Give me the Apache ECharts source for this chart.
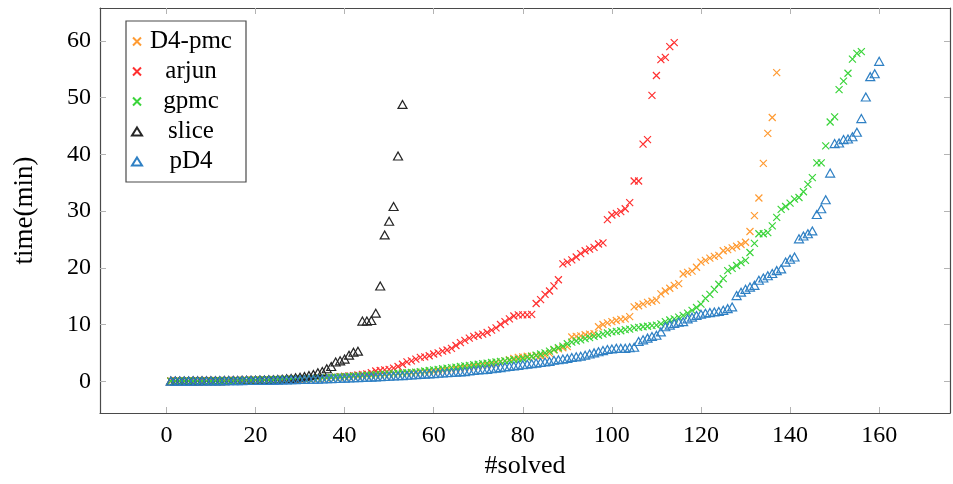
<!DOCTYPE html>
<html>
<head>
<meta charset="utf-8">
<script src="https://cdn.jsdelivr.net/npm/echarts@6/dist/echarts.min.js"></script>
<style>html,body{margin:0;padding:0;background:#fff;}#c{width:953px;height:484px;}</style>
</head>
<body>
<div id="c"></div>
<script>
const xTicks = [0, 20, 40, 60, 80, 100, 120, 140, 160];
const yTicks = [0, 10, 20, 30, 40, 50, 60];
const seriesNames = ['D4-pmc', 'arjun', 'gpmc', 'slice', 'pD4'];

const d4pmc = [
  0.02,0.03,0.03,0.04,0.04,0.05,0.05,0.06,0.06,0.07,
  0.08,0.09,0.10,0.11,0.12,0.13,0.14,0.15,0.17,0.18,
  0.20,0.22,0.24,0.26,0.28,0.30,0.32,0.35,0.38,0.40,
  0.43,0.46,0.50,0.53,0.56,0.60,0.63,0.67,0.70,0.74,
  0.78,0.82,0.86,0.90,0.95,1.00,1.05,1.10,1.15,1.20,
  1.25,1.30,1.35,1.40,1.45,1.50,1.55,1.60,1.65,1.70,
  1.80,1.90,2.00,2.10,2.20,2.30,2.40,2.50,2.60,2.70,
  2.80,2.90,3.00,3.20,3.40,3.60,3.80,4.00,4.20,4.30,
  4.4,4.4,4.5,4.5,4.6,4.9,5.5,5.7,5.9,6.1,
  7.8,7.9,8.0,8.2,8.3,8.4,9.6,10.0,10.3,10.5,
  10.7,10.9,11.0,11.4,13.1,13.3,13.6,13.9,14.1,14.3,
  15.4,15.9,16.4,16.9,17.2,18.9,19.2,19.4,20.1,21.0,
  21.3,21.7,22.0,22.2,23.0,23.2,23.5,23.8,24.1,24.5,
  26.4,29.2,32.3,38.4,43.7,46.5,54.4
];

const arjun = [
  0.05,0.05,0.06,0.06,0.07,0.07,0.08,0.08,0.09,0.10,
  0.10,0.11,0.12,0.13,0.14,0.15,0.16,0.17,0.18,0.20,
  0.21,0.23,0.25,0.27,0.29,0.31,0.33,0.35,0.38,0.40,
  0.43,0.46,0.50,0.54,0.58,0.62,0.67,0.72,0.80,0.88,
  0.95,1.0,1.1,1.2,1.3,1.5,1.8,1.9,2.0,2.1,
  2.3,2.6,3.0,3.4,3.6,3.9,4.2,4.3,4.5,4.8,
  5.0,5.3,5.5,5.8,6.3,6.8,7.2,7.6,7.9,8.1,
  8.3,8.6,9.0,9.4,10.0,10.5,11.0,11.5,11.7,11.7,
  11.7,11.8,13.7,14.4,15.3,15.9,16.8,17.9,20.7,21.0,
  21.4,21.9,22.5,23.0,23.3,23.6,24.2,24.4,28.5,29.3,
  29.6,29.9,30.4,31.5,35.3,35.3,41.8,42.6,50.4,53.9,
  56.7,57.1,59.0,59.7
];

const gpmc = [
  0.03,0.03,0.04,0.04,0.05,0.05,0.06,0.06,0.07,0.07,
  0.08,0.09,0.10,0.11,0.12,0.13,0.14,0.16,0.17,0.19,
  0.21,0.23,0.25,0.27,0.30,0.32,0.35,0.38,0.41,0.44,
  0.47,0.50,0.54,0.57,0.60,0.64,0.68,0.72,0.76,0.80,
  0.85,0.90,0.95,1.00,1.05,1.10,1.15,1.20,1.25,1.30,
  1.35,1.40,1.45,1.50,1.55,1.60,1.70,1.80,1.90,2.00,
  2.10,2.20,2.30,2.40,2.50,2.60,2.70,2.80,2.90,3.00,
  3.10,3.20,3.30,3.40,3.50,3.60,3.70,3.80,3.90,4.00,
  4.2,4.4,4.6,4.8,5.0,5.3,5.6,5.9,6.2,6.6,
  6.9,7.1,7.3,7.5,7.7,7.9,8.1,8.3,8.5,8.7,
  8.8,8.9,9.1,9.2,9.4,9.5,9.6,9.7,9.8,9.9,
  10.1,10.5,10.8,11.0,11.3,11.6,12.0,12.5,13.0,13.6,
  14.6,15.3,16.2,17.1,18.1,19.5,19.9,20.4,20.9,21.3,
  22.7,24.3,26.0,26.0,26.2,27.4,28.9,30.3,30.8,31.4,
  32.1,32.4,33.4,34.7,35.9,38.5,38.5,41.5,45.7,46.6,
  51.4,52.9,54.3,56.8,57.8,58.1
];

const slice = [
  0.05,0.05,0.05,0.06,0.06,0.07,0.07,0.08,0.08,0.09,
  0.10,0.10,0.11,0.12,0.13,0.14,0.15,0.16,0.17,0.18,
  0.20,0.22,0.25,0.28,0.32,0.36,0.42,0.50,0.60,0.72,
  0.85,1.0,1.2,1.5,1.7,2.2,2.6,3.4,3.6,3.9,
  4.6,5.1,5.3,10.6,10.6,10.7,12.0,16.8,25.8,28.2,
  30.8,39.7,48.8
];

const pd4 = [
  0.02,0.02,0.03,0.03,0.03,0.04,0.04,0.05,0.05,0.06,
  0.06,0.07,0.08,0.08,0.09,0.10,0.11,0.12,0.13,0.14,
  0.15,0.16,0.17,0.19,0.20,0.22,0.24,0.26,0.28,0.30,
  0.32,0.34,0.36,0.38,0.40,0.43,0.46,0.49,0.52,0.55,
  0.58,0.61,0.64,0.67,0.70,0.73,0.76,0.80,0.84,0.88,
  0.92,0.96,1.00,1.05,1.10,1.15,1.20,1.25,1.30,1.35,
  1.40,1.45,1.50,1.55,1.60,1.65,1.70,1.80,1.90,2.00,
  2.05,2.10,2.20,2.30,2.40,2.50,2.60,2.70,2.80,2.90,
  3.0,3.1,3.2,3.3,3.4,3.5,3.7,3.8,3.9,4.0,
  4.2,4.3,4.4,4.6,4.8,5.0,5.2,5.4,5.6,5.7,
  5.8,5.8,5.8,5.9,6.0,7.0,7.3,7.6,7.9,8.1,
  8.7,9.6,9.9,10.2,10.4,10.5,11.0,11.3,11.6,11.8,
  12.0,12.1,12.2,12.3,12.5,12.8,13.1,15.1,15.7,16.2,
  16.6,16.9,17.8,18.2,18.6,19.0,19.5,19.8,21.0,21.5,
  21.9,25.1,25.6,26.0,26.5,29.4,30.4,32.0,36.7,41.9,
  42.0,42.6,42.7,43.1,43.9,46.3,50.1,53.7,54.2,56.4
];

const values = [d4pmc, arjun, gpmc, slice, pd4];
const colors = ['#ff9b33', '#ff3030', '#3ad43a', '#262626', '#2f80c4'];
const crossPath = 'path://M0,0L10,10M10,0L0,10';
const FONT = '"Liberation Serif", "DejaVu Serif", serif';

const series = values.map((arr, i) => {
  const isX = i < 3;
  return {
    name: seriesNames[i],
    type: 'scatter',
    xAxisIndex: 0,
    yAxisIndex: 0,
    data: arr.map((v, k) => [k + 1, v]),
    symbol: isX ? crossPath : 'triangle',
    symbolSize: isX ? 7 : [9, 8],
    itemStyle: {
      color: 'rgba(0,0,0,0)',
      borderColor: colors[i],
      borderWidth: 1.2,
      opacity: 1
    },
    emphasis: { disabled: true },
    animation: false
  };
});

const tickStyle = { show: true, inside: true, length: 6, lineStyle: { color: '#b3b3b3', width: 1 } };
const lineStyle = { show: true, onZero: false, lineStyle: { color: '#4a4a4a', width: 1.2 } };

const chart = echarts.init(document.getElementById('c'), null, { renderer: 'canvas' });
chart.setOption({
  backgroundColor: '#ffffff',
  animation: false,
  grid: { left: 100, right: 3, top: 8, bottom: 69, containLabel: false },
  legend: {
    orient: 'vertical',
    left: 126,
    top: 21,
    padding: [8, 11, 8, 5],
    itemGap: 5,
    itemWidth: 10,
    itemHeight: 8,
    borderColor: '#4a4a4a',
    borderWidth: 1.2,
    backgroundColor: '#ffffff',
    data: seriesNames,
    formatter: function (n) { return '{t|' + n + '}'; },
    textStyle: {
      rich: {
        t: { fontFamily: FONT, fontSize: 25, color: '#000', width: 88, align: 'center', lineHeight: 24 }
      }
    }
  },
  xAxis: [
    {
      type: 'value', position: 'bottom', min: -14.9, max: 175.9,
      axisLine: lineStyle,
      axisTick: Object.assign({ customValues: xTicks }, tickStyle),
      axisLabel: { customValues: xTicks, fontFamily: FONT, fontSize: 24, color: '#000', margin: 11 },
      splitLine: { show: false },
      name: '#solved', nameLocation: 'middle', nameGap: 40,
      nameTextStyle: { fontFamily: FONT, fontSize: 26, color: '#000' }
    },
    {
      type: 'value', position: 'top', min: -14.9, max: 175.9,
      axisLine: lineStyle,
      axisTick: Object.assign({ customValues: xTicks }, tickStyle),
      axisLabel: { show: false },
      splitLine: { show: false }
    }
  ],
  yAxis: [
    {
      type: 'value', position: 'left', min: -5.6, max: 65.8,
      axisLine: lineStyle,
      axisTick: Object.assign({ customValues: yTicks }, tickStyle),
      axisLabel: { customValues: yTicks, fontFamily: FONT, fontSize: 24, color: '#000', margin: 9 },
      splitLine: { show: false },
      name: 'time(min)', nameLocation: 'middle', nameGap: 62,
      nameTextStyle: { fontFamily: FONT, fontSize: 27, color: '#000' }
    },
    {
      type: 'value', position: 'right', min: -5.6, max: 65.8,
      axisLine: lineStyle,
      axisTick: Object.assign({ customValues: yTicks }, tickStyle),
      axisLabel: { show: false },
      splitLine: { show: false }
    }
  ],
  series: series
});
</script>
</body>
</html>
